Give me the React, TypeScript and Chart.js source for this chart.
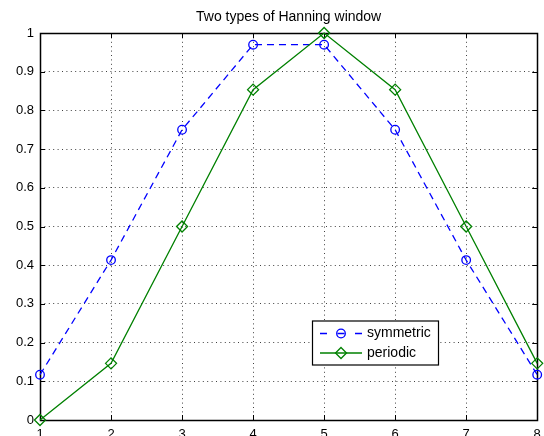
import React, { useEffect, useRef } from 'react';
import { Chart, registerables } from 'chart.js';

Chart.register(...registerables);

const titleText = 'Two types of Hanning window';
const samples = [1, 2, 3, 4, 5, 6, 7, 8];
const symmetric = [0.117, 0.4132, 0.75, 0.9698, 0.9698, 0.75, 0.4132, 0.117];
const periodic = [0, 0.1464, 0.5, 0.8536, 1, 0.8536, 0.5, 0.1464];
const seriesNames = ['symmetric', 'periodic'];
const xTickLabels = ['1', '2', '3', '4', '5', '6', '7', '8'];
const yTickLabels = ['0', '0.1', '0.2', '0.3', '0.4', '0.5', '0.6', '0.7', '0.8', '0.9', '1'];

const FONT = '"Liberation Sans", Arial, Helvetica, sans-serif';
const BLUE = '#0000ff';
const GREEN = '#008000';

function drawDiamond(ctx: CanvasRenderingContext2D, x: number, y: number, r: number) {
  ctx.beginPath();
  ctx.moveTo(x, y - r);
  ctx.lineTo(x + r, y);
  ctx.lineTo(x, y + r);
  ctx.lineTo(x - r, y);
  ctx.closePath();
  ctx.stroke();
}

const framePlugin = {
  id: 'matlabFrame',
  beforeDatasetsDraw(chart: any) {
    const { ctx, chartArea: a, scales } = chart;
    ctx.save();
    ctx.strokeStyle = '#000';
    ctx.lineWidth = 1;
    ctx.setLineDash([]);
    const tl = 5;
    ctx.beginPath();
    scales.x.ticks.forEach((t: any) => {
      const px = Math.round(scales.x.getPixelForValue(t.value)) + 0.5;
      ctx.moveTo(px, a.bottom);
      ctx.lineTo(px, a.bottom - tl);
      ctx.moveTo(px, a.top);
      ctx.lineTo(px, a.top + tl);
    });
    scales.y.ticks.forEach((t: any) => {
      const py = Math.round(scales.y.getPixelForValue(t.value)) + 0.5;
      ctx.moveTo(a.left, py);
      ctx.lineTo(a.left + tl, py);
      ctx.moveTo(a.right, py);
      ctx.lineTo(a.right - tl, py);
    });
    ctx.stroke();
    ctx.lineWidth = 1.5;
    ctx.strokeRect(Math.round(a.left) + 0.5, Math.round(a.top) + 0.5, Math.round(a.right - a.left), Math.round(a.bottom - a.top));
    ctx.restore();
  },
  afterDraw(chart: any) {
    const { ctx, chartArea: a } = chart;
    ctx.save();
    // title
    ctx.fillStyle = '#000';
    ctx.font = `14px ${FONT}`;
    ctx.textAlign = 'center';
    ctx.textBaseline = 'middle';
    ctx.fillText(titleText, (a.left + a.right) / 2, a.top - 16);

    // legend
    const lx = a.left + 272;
    const ly = a.top + 287.5;
    const lw = 126;
    const lh = 44;
    ctx.fillStyle = '#fff';
    ctx.fillRect(lx, ly, lw, lh);
    ctx.strokeStyle = '#000';
    ctx.lineWidth = 1.2;
    ctx.strokeRect(lx + 0.5, ly + 0.5, lw, lh);

    const rows = [ly + 13, ly + 32.5];
    const x0 = lx + 8;
    const x1 = lx + 50;
    const mx = (x0 + x1) / 2;
    ctx.lineWidth = 1.3;
    // symmetric
    ctx.strokeStyle = BLUE;
    ctx.setLineDash([7, 10.5]);
    ctx.beginPath();
    ctx.moveTo(x0, rows[0]);
    ctx.lineTo(x1, rows[0]);
    ctx.stroke();
    ctx.setLineDash([]);
    ctx.beginPath();
    ctx.arc(mx, rows[0], 4.3, 0, Math.PI * 2);
    ctx.stroke();
    // periodic
    ctx.strokeStyle = GREEN;
    ctx.beginPath();
    ctx.moveTo(x0, rows[1]);
    ctx.lineTo(x1, rows[1]);
    ctx.stroke();
    drawDiamond(ctx, mx, rows[1], 5.5);

    ctx.fillStyle = '#000';
    ctx.font = `14px ${FONT}`;
    ctx.textAlign = 'left';
    ctx.textBaseline = 'middle';
    ctx.fillText(seriesNames[0], lx + 55, rows[0]);
    ctx.fillText(seriesNames[1], lx + 55, rows[1]);
    ctx.restore();
  },
};

export default function App() {
  const canvasRef = useRef<HTMLCanvasElement | null>(null);

  useEffect(() => {
    const canvas = canvasRef.current;
    if (!canvas) return;
    const gridColor = 'rgba(0,0,0,0.75)';
    const chart = new Chart(canvas, {
      type: 'line',
      data: {
        datasets: [
          {
            label: seriesNames[0],
            data: samples.map((x, i) => ({ x, y: symmetric[i] })),
            borderColor: BLUE,
            borderWidth: 1.3,
            borderDash: [7, 5],
            pointStyle: 'circle',
            pointRadius: 4.3,
            pointBorderWidth: 1.3,
            pointBorderColor: BLUE,
            pointBackgroundColor: 'rgba(0,0,0,0)',
            fill: false,
            tension: 0,
            clip: false as any,
            order: 1,
          },
          {
            label: seriesNames[1],
            data: samples.map((x, i) => ({ x, y: periodic[i] })),
            borderColor: GREEN,
            borderWidth: 1.3,
            pointStyle: 'rectRot',
            pointRadius: 5.5,
            pointBorderWidth: 1.3,
            pointBorderColor: GREEN,
            pointBackgroundColor: 'rgba(0,0,0,0)',
            fill: false,
            tension: 0,
            clip: false as any,
            order: 0,
          },
        ],
      },
      options: {
        responsive: false,
        animation: false,
        devicePixelRatio: 1,
        layout: { padding: { top: 33, right: 5, left: 0, bottom: 0 } },
        plugins: {
          legend: { display: false },
          title: { display: false },
          tooltip: { enabled: false },
        },
        scales: {
          x: {
            type: 'linear',
            min: 1,
            max: 8,
            afterFit: (s: any) => {
              s.height = 16;
              s.paddingLeft = 0;
              s.paddingRight = 0;
              s.paddingTop = 0;
              s.paddingBottom = 0;
            },
            ticks: {
              stepSize: 1,
              autoSkip: false,
              maxRotation: 0,
              padding: 7,
              color: '#000',
              font: { family: FONT, size: 13 },
              callback: (v: any) => xTickLabels[Math.round(Number(v)) - 1] ?? '',
            },
            grid: { color: gridColor, lineWidth: 1, drawTicks: false },
            border: { display: false, dash: [1, 3.4] },
          },
          y: {
            type: 'linear',
            min: 0,
            max: 1,
            afterFit: (s: any) => {
              s.width = 40;
              s.paddingLeft = 0;
              s.paddingRight = 0;
              s.paddingTop = 0;
              s.paddingBottom = 0;
            },
            ticks: {
              stepSize: 0.1,
              autoSkip: false,
              padding: 6,
              color: '#000',
              font: { family: FONT, size: 13 },
              callback: (v: any) => yTickLabels[Math.round(Number(v) * 10)] ?? '',
            },
            grid: { color: gridColor, lineWidth: 1, drawTicks: false },
            border: { display: false, dash: [1, 3.4] },
          },
        },
      },
      plugins: [framePlugin],
    } as any);
    return () => chart.destroy();
  }, []);

  return (
    <div style={{ position: 'fixed', left: 0, top: 0, width: 544, height: 436, background: '#fff' }}>
      <canvas ref={canvasRef} width={544} height={436} style={{ display: 'block', width: 544, height: 436 }} />
    </div>
  );
}
